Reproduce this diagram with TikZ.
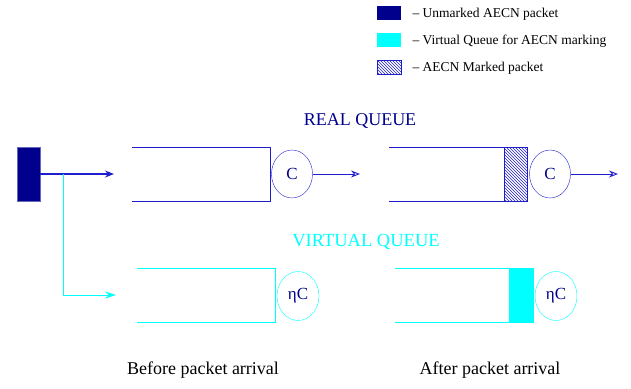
\documentclass[tikz,border=0pt]{standalone}
\usepackage{fontspec}
\setmainfont{Liberation Serif}
\usetikzlibrary{arrows.meta,positioning,shapes.geometric,patterns}
\definecolor{packet}{HTML}{00008C}
\definecolor{realq}{HTML}{1E1ECD}
\definecolor{virtq}{HTML}{00FFFF}

\begin{document}
\begin{tikzpicture}[x=1pt,y=-1pt,
    server/.style={draw,ellipse,inner sep=0pt,minimum width=41pt,minimum height=48pt,
      text=packet,font=\fontsize{17}{19}\selectfont},
    legendbox/.style={minimum width=24pt,minimum height=14pt,inner sep=0pt},
    lbl/.style={font=\fontsize{13.5}{15}\selectfont},
    flow/.style={line width=0.9pt,-{Stealth[open,length=9pt,width=7pt]}}]
  \useasboundingbox (0,0) rectangle (631,388);

  % Legend
  \node[legendbox,fill=packet] (lgpkt) at (389,13) {};
  \node[legendbox,fill=virtq] (lgvq) at (389,40) {};
  \node[legendbox,draw=realq,pattern=north west lines,pattern color=realq] (lgmk) at (389,67) {};
  \node[lbl,anchor=west] (txpkt) at (409,14) {– Unmarked AECN packet};
  \node[lbl,anchor=west] (txvq) at (409,41) {– Virtual Queue for AECN marking};
  \node[lbl,anchor=west] (txmk) at (409,68) {– AECN Marked packet};

  % Arriving packet
  \node[fill=packet,draw=packet!60,minimum width=23pt,minimum height=54pt,inner sep=0pt] (pkt) at (28.5,174) {};
  \coordinate (split) at (63,174);
  \coordinate (rin1) at (114,174);
  \coordinate (bend) at (63,295);
  \coordinate (vin1) at (116,295);
  \draw[flow,realq,line width=1.6pt] (pkt.east) -- (rin1);
  \draw[virtq,line width=0.9pt,-{Stealth[length=11pt,width=7pt]}] (split) -- (bend) -- (vin1);

  % Real queue, before arrival
  \node[font=\fontsize{18}{20}\selectfont,text=packet] (realtitle) at (360,121) {REAL QUEUE};
  \draw[realq,line width=0.8pt] (132,147) -- (270,147) -- (270,201) -- (132,201);
  \node[server,draw=realq] (c1) at (292,174) {C};
  \coordinate (rout1) at (360,174);
  \draw[flow,realq] (c1.east) -- (rout1);

  % Real queue, after arrival (marked packet at the head)
  \pattern[pattern=north west lines,pattern color=realq] (504,147) rectangle (527,201);
  \draw[realq,line width=0.8pt] (504,147) -- (504,201);
  \draw[realq,line width=0.8pt] (389,147) -- (527,147) -- (527,201) -- (389,201);
  \node[server,draw=realq] (c2) at (550,174) {C};
  \coordinate (rout2) at (618,174);
  \draw[flow,realq] (c2.east) -- (rout2);

  % Virtual queue, before arrival
  \node[font=\fontsize{18.5}{20}\selectfont,text=virtq] (virttitle) at (366,242) {VIRTUAL QUEUE};
  \draw[virtq,line width=0.8pt] (137,268) -- (275,268) -- (275,322) -- (137,322);
  \node[server,draw=virtq,minimum width=42pt,minimum height=49pt] (vc1) at (298,296) {ηC};

  % Virtual queue, after arrival
  \fill[virtq] (509,268) rectangle (533,322);
  \draw[virtq,line width=0.8pt] (395,268) -- (533,268) -- (533,322) -- (395,322);
  \node[server,draw=virtq,minimum width=42pt,minimum height=49pt] (vc2) at (556,296) {ηC};

  % Captions
  \node[font=\fontsize{18}{20}\selectfont] (before) at (203,370) {Before packet arrival};
  \node[font=\fontsize{18}{20}\selectfont] (after) at (490,370) {After packet arrival};
\end{tikzpicture}
\end{document}
